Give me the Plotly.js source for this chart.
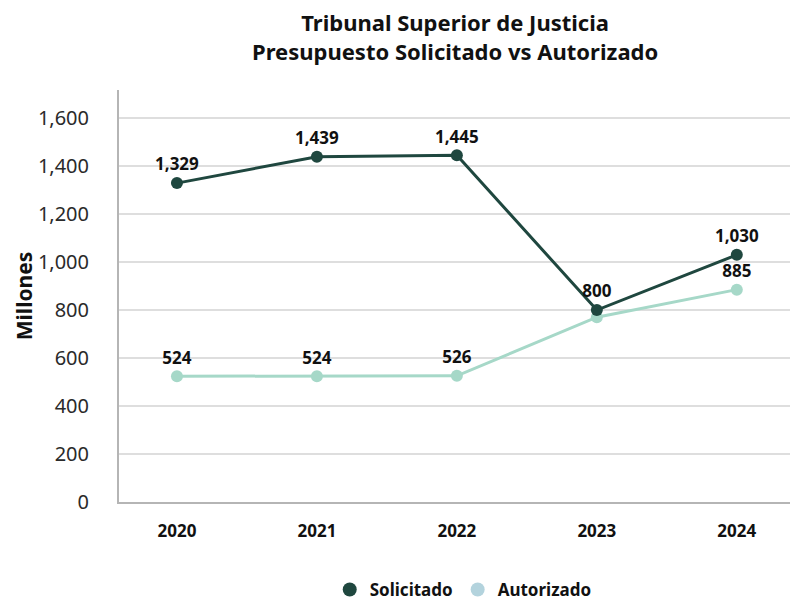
<!DOCTYPE html>
<html>
<head>
<meta charset="utf-8">
<script src="https://cdn.plot.ly/plotly-3.0.1.min.js"></script>
<style>html,body{margin:0;padding:0;background:#fff;}#chart{width:790px;height:603px;}</style>
</head>
<body>
<div id="chart"></div>
<script>
const years = ['2020', '2021', '2022', '2023', '2024'];
const solicitado = [1329, 1439, 1445, 800, 1030];
const autorizado = [524, 524, 526, 770, 885];
const showAutorizadoLabel = [true, true, true, false, true];
const yTicks = [0, 200, 400, 600, 800, 1000, 1200, 1400, 1600];
const titleText = 'Tribunal Superior de Justicia<br>Presupuesto Solicitado vs Autorizado';

const fmt = v => v.toLocaleString('en-US');
const FONT = 'Noto Sans, Open Sans, sans-serif';
const dark = '#1f473f';
const light = '#a6d8c8';

const traces = [
  {
    x: years, y: autorizado, type: 'scatter', mode: 'lines+markers+text',
    line: {color: light, width: 3}, marker: {color: light, size: 12},
    text: autorizado.map((v, i) => showAutorizadoLabel[i] ? fmt(v) : ''),
    textposition: 'top center', textfont: {family: FONT, size: 17, color: '#111', weight: 'bold'},
    showlegend: false, hoverinfo: 'skip', cliponaxis: false
  },
  {
    x: years, y: solicitado, type: 'scatter', mode: 'lines+markers+text',
    line: {color: dark, width: 3}, marker: {color: dark, size: 12},
    text: solicitado.map(fmt),
    textposition: 'top center', textfont: {family: FONT, size: 17, color: '#111', weight: 'bold'},
    showlegend: false, hoverinfo: 'skip', cliponaxis: false
  },
  {x: [null], y: [null], type: 'scatter', mode: 'markers', name: 'Solicitado',
   marker: {color: dark, size: 14}},
  {x: [null], y: [null], type: 'scatter', mode: 'markers', name: 'Autorizado',
   marker: {color: '#b3d3dd', size: 14}}
];

const layout = {
  width: 790, height: 603,
  margin: {l: 119, r: 0, t: 90, b: 101, autoexpand: false},
  paper_bgcolor: '#fff', plot_bgcolor: '#fff',
  font: {family: FONT, color: '#222'},
  annotations: [{
    text: titleText, showarrow: false,
    font: {family: FONT, size: 22, color: '#111', weight: 'bold'},
    xref: 'paper', x: 0.5, xanchor: 'center',
    yref: 'paper', y: 1 + (90 - 37) / 412, yanchor: 'middle'
  }],
  xaxis: {
    type: 'category', range: [-0.414, 4.38],
    showline: true, linecolor: '#b5b5b5', linewidth: 2,
    showgrid: false, zeroline: false, ticks: '',
    tickfont: {family: FONT, size: 17, color: '#111', weight: 'bold'},
    ticklabelstandoff: 13, fixedrange: true, automargin: false
  },
  yaxis: {
    range: [0, 1717], tickvals: yTicks, ticktext: yTicks.map(fmt),
    showline: true, linecolor: '#b5b5b5', linewidth: 2,
    showgrid: true, gridcolor: '#dedede', gridwidth: 1.5, zeroline: false,
    ticks: '', ticklabelstandoff: 24,
    tickfont: {family: FONT, size: 20, color: '#2a2a2a'},
    title: {text: 'Millones', font: {family: FONT, size: 21, color: '#111', weight: 'bold'}, standoff: 0},
    fixedrange: true, automargin: false
  },
  legend: {
    orientation: 'h', x: 0.513, xref: 'paper', xanchor: 'center',
    y: -(590 - 502) / 412, yref: 'paper', yanchor: 'middle',
    font: {family: FONT, size: 17, color: '#111', weight: 'bold'},
    itemwidth: 30, tracegroupgap: 0
  },
  showlegend: true
};

Plotly.newPlot('chart', traces, layout, {displayModeBar: false, staticPlot: true});
</script>
</body>
</html>
